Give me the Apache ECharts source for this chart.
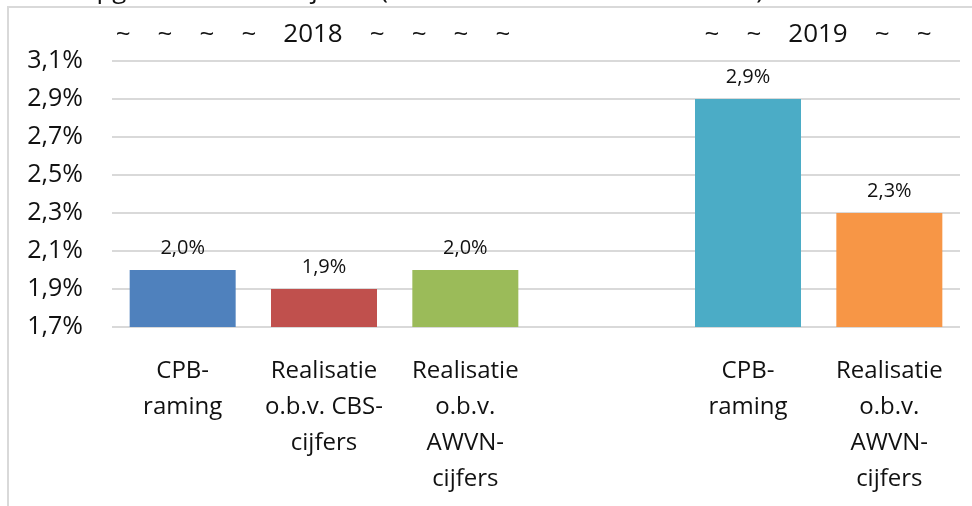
<!DOCTYPE html>
<html>
<head>
<meta charset="utf-8">
<script src="https://cdn.jsdelivr.net/npm/echarts@6/dist/echarts.min.js"></script>
<style>
  html, body { margin: 0; padding: 0; background: #fff; }
  #chart { width: 972px; height: 506px; }
</style>
</head>
<body>
<div id="chart"></div>
<script>
// categorieen (lege kolom scheidt 2018 en 2019)
var categories = ['CPB-\nraming', 'Realisatie\no.b.v. CBS-\ncijfers', 'Realisatie\no.b.v.\nAWVN-\ncijfers', '', 'CPB-\nraming', 'Realisatie\no.b.v.\nAWVN-\ncijfers'];
var values = [2.0, 1.9, 2.0, null, 2.9, 2.3];
var barColors = ['#4F81BD', '#C0504D', '#9BBB59', '#ffffff', '#4BACC6', '#F79646'];
var yearLabels = ['~    ~    ~    ~    2018    ~    ~    ~    ~', '~    ~    2019    ~    ~'];
var titleText = 'Loonopgave voor beide jaren (cao-lonen en realisaties AWVN)';

var font = '"Open Sans", "Noto Sans", sans-serif';
var textColor = '#111';
function pct(v) {
  return v.toFixed(1).replace('.', ',') + '%';
}

var myChart = echarts.init(document.getElementById('chart'));
myChart.setOption({
  animation: false,
  grid: {
    left: 112,
    right: 12,
    top: 61,
    bottom: 179
  },
  graphic: [
    {
      type: 'rect',
      shape: { x: 8, y: 7, width: 1200, height: 800 },
      style: { fill: 'none', stroke: '#d9d9d9', lineWidth: 2 },
      silent: true
    },
    {
      type: 'text',
      left: 20,
      top: -22,
      style: { text: titleText, font: '26px ' + font, fill: textColor }
    },
    {
      type: 'text',
      x: 313,
      y: 35,
      style: { text: yearLabels[0], font: '26px ' + font, fill: textColor, align: 'center', verticalAlign: 'middle' }
    },
    {
      type: 'text',
      x: 818,
      y: 35,
      style: { text: yearLabels[1], font: '26px ' + font, fill: textColor, align: 'center', verticalAlign: 'middle' }
    }
  ],
  xAxis: {
    type: 'category',
    data: categories,
    axisLine: { show: false },
    axisTick: { show: false },
    axisLabel: {
      interval: 0,
      fontFamily: font,
      fontSize: 24,
      lineHeight: 36,
      color: textColor,
      margin: 26
    }
  },
  yAxis: {
    type: 'value',
    min: 1.7,
    max: 3.1,
    interval: 0.2,
    axisLine: { show: false },
    axisTick: { show: false },
    splitLine: { lineStyle: { color: '#d9d9d9', width: 2 } },
    axisLabel: {
      fontFamily: font,
      fontSize: 25,
      color: textColor,
      margin: 29,
      formatter: pct
    }
  },
  series: [{
    type: 'bar',
    data: values.map(function (v, i) {
      return { value: v, itemStyle: { color: barColors[i] } };
    }),
    barWidth: '75%',
    label: {
      show: true,
      position: 'top',
      distance: 12,
      fontFamily: font,
      fontSize: 20,
      color: textColor,
      formatter: function (p) { return pct(p.value); }
    }
  }]
});
</script>
</body>
</html>
